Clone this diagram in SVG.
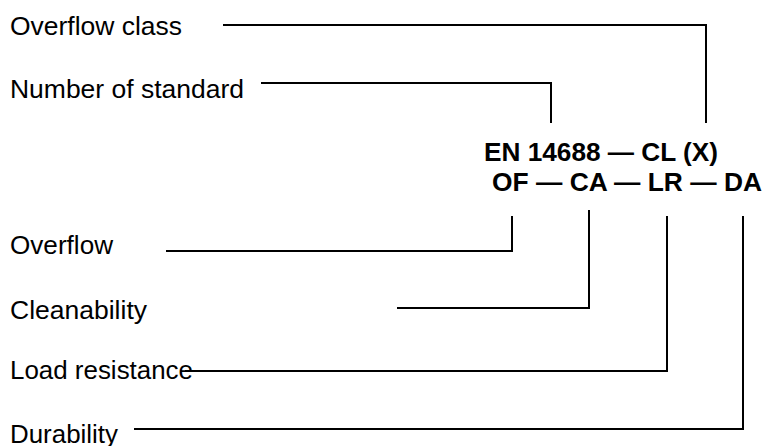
<svg xmlns="http://www.w3.org/2000/svg" width="765" height="446" viewBox="0 0 765 446">
<style>
.lbl{font-family:"Liberation Sans",Arial,sans-serif;font-size:26px;fill:#000}
.code{font-family:"Liberation Sans",Arial,sans-serif;font-size:26px;font-weight:bold;fill:#000}
.ln{fill:none;stroke:#000;stroke-width:2;stroke-linecap:square}
</style>
<rect width="765" height="446" fill="#fff"/>
<g id="designation">
<text class="code" x="484" y="161" textLength="234" lengthAdjust="spacingAndGlyphs">EN 14688 — CL (X)</text>
<text class="code" x="492" y="191" textLength="270" lengthAdjust="spacingAndGlyphs">OF — CA — LR — DA</text>
</g>
<g id="overflow-class"><text class="lbl" x="10" y="35" textLength="172" lengthAdjust="spacingAndGlyphs">Overflow class</text></g>
<g id="number-of-standard"><text class="lbl" x="10" y="98" textLength="234" lengthAdjust="spacingAndGlyphs">Number of standard</text></g>
<g id="overflow"><text class="lbl" x="10" y="254" textLength="103" lengthAdjust="spacingAndGlyphs">Overflow</text></g>
<g id="cleanability"><text class="lbl" x="10" y="319" textLength="137" lengthAdjust="spacingAndGlyphs">Cleanability</text></g>
<g id="load-resistance"><text class="lbl" x="10" y="379" textLength="183" lengthAdjust="spacingAndGlyphs">Load resistance</text></g>
<g id="durability"><text class="lbl" x="10" y="443" textLength="108" lengthAdjust="spacingAndGlyphs">Durability</text></g>
<g id="connectors">
<polyline class="ln" points="224,25 706,25 706,122"/>
<polyline class="ln" points="262,83 551,83 551,122"/>
<polyline class="ln" points="167,251 512,251 512,217"/>
<polyline class="ln" points="398,308 589,308 589,211"/>
<polyline class="ln" points="186,371 667,371 667,217"/>
<polyline class="ln" points="135,429 743,429 743,217"/>
</g>
</svg>
